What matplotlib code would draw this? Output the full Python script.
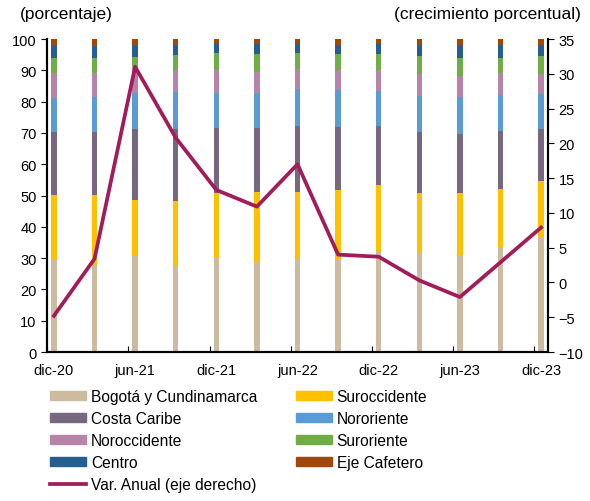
import matplotlib
matplotlib.use("Agg")
import matplotlib.pyplot as plt
import matplotlib.patches as mpatches
import numpy as np

plt.rcParams['font.family'] = ['Liberation Sans', 'DejaVu Sans']

# trimestres dic-20 .. dic-23
periods = ["dic-20", "mar-21", "jun-21", "sep-21", "dic-21", "mar-22", "jun-22",
           "sep-22", "dic-22", "mar-23", "jun-23", "sep-23", "dic-23"]
tick_labels = ["dic-20", "jun-21", "dic-21", "jun-22", "dic-22", "jun-23", "dic-23"]

# participacion por region (porcentaje)
bogota = [29.3, 27.9, 30.7, 27.6, 30.1, 28.7, 29.8, 29.4, 32.0, 31.7, 31.1, 33.4, 36.4]
suroccidente = [21.0, 22.4, 17.9, 20.7, 20.8, 22.5, 21.4, 22.4, 21.2, 19.2, 19.8, 18.7, 18.1]
costa_caribe = [20.0, 20.0, 22.5, 23.1, 20.7, 20.4, 21.0, 20.2, 19.0, 19.4, 18.8, 18.5, 16.9]
nororiente = [11.0, 11.3, 11.6, 11.6, 11.3, 11.3, 11.7, 11.6, 11.1, 11.6, 11.9, 11.6, 10.9]
noroccidente = [8.0, 7.7, 8.8, 7.1, 7.2, 6.6, 6.6, 6.5, 6.7, 6.8, 6.5, 7.1, 6.4]
suroriente = [4.7, 4.7, 2.9, 4.7, 5.4, 5.7, 5.0, 5.0, 5.2, 5.8, 5.9, 4.7, 5.8]
centro = [4.2, 3.9, 3.8, 3.4, 2.9, 3.1, 2.9, 3.0, 3.1, 3.6, 4.1, 4.2, 3.7]
eje_cafetero = [1.8, 2.1, 1.8, 1.8, 1.6, 1.7, 1.6, 1.9, 1.7, 1.9, 1.9, 1.8, 1.8]

# variacion anual (eje derecho)
var_anual = [-4.8, 3.4, 31.0, 20.8, 13.3, 10.9, 17.0, 4.0, 3.7, 0.3, -2.1, 2.9, 7.9]

series = [
    ("Bogotá y Cundinamarca", bogota, "#CDBBA0"),
    ("Suroccidente", suroccidente, "#FFC000"),
    ("Costa Caribe", costa_caribe, "#75687F"),
    ("Nororiente", nororiente, "#5B9BD5"),
    ("Noroccidente", noroccidente, "#B784A7"),
    ("Suroriente", suroriente, "#70AD47"),
    ("Centro", centro, "#255E91"),
    ("Eje Cafetero", eje_cafetero, "#9E480E"),
]

fig = plt.figure(figsize=(5.9, 5.02), dpi=100)
ax = fig.add_axes([0.0797, 0.2968, 0.8491, 0.6235])

x = np.arange(len(periods))
bottom = np.zeros(len(periods))
handles = {}
for name, vals, col in series:
    ax.bar(x, vals, width=0.13, bottom=bottom, color=col, linewidth=0)
    bottom += np.array(vals)
    handles[name] = mpatches.Patch(color=col, label=name)

ax.set_xlim(-0.17, len(periods) - 1 + 0.17)
ax.set_ylim(0, 100)
ax.set_yticks(range(0, 101, 10))
ax.tick_params(axis='y', direction='out', length=4, labelsize=10.5)

# marcas de eje ligeramente a la izquierda de las barras, etiquetas en las barras
tick_pos = x[::2]
ax.set_xticks(tick_pos - 0.165)
ax.set_xticklabels([])
ax.set_xticks(tick_pos, minor=True)
ax.set_xticklabels(tick_labels, minor=True)
ax.tick_params(axis='x', which='major', direction='in', length=4)
ax.tick_params(axis='x', which='minor', length=0, labelsize=10.5, pad=8)

ax2 = ax.twinx()
line, = ax2.plot(x, var_anual, color="#A31C5A", linewidth=2.7)
ax2.set_ylim(-10, 35)
ax2.set_yticks(range(-10, 36, 5))
ax2.tick_params(axis='y', direction='out', length=4, labelsize=10.5)

for a in (ax, ax2):
    a.spines['top'].set_visible(False)
    for s in ('left', 'right', 'bottom'):
        a.spines[s].set_linewidth(1.5)
        a.spines[s].set_color('black')

fig.text(0.034, 0.972, "(porcentaje)", fontsize=12.5, va='center', ha='left')
fig.text(0.985, 0.972, "(crecimiento porcentual)", fontsize=12.5, va='center', ha='right')

order = ["Bogotá y Cundinamarca", "Costa Caribe", "Noroccidente", "Centro", None,
         "Suroccidente", "Nororiente", "Suroriente", "Eje Cafetero"]
hl = []
for n in order:
    if n is None:
        line.set_label("Var. Anual (eje derecho)")
        hl.append(line)
    else:
        hl.append(handles[n])
fig.legend(handles=hl, labels=[h.get_label() for h in hl], ncol=2,
           loc='upper left', bbox_to_anchor=(0.075, 0.236), frameon=False,
           fontsize=11.2, handlelength=2.3, handleheight=0.5, handletextpad=0.3,
           columnspacing=2.5, labelspacing=0.46, borderaxespad=0)

fig.savefig("out.png", dpi=100)
plt.close(fig)
